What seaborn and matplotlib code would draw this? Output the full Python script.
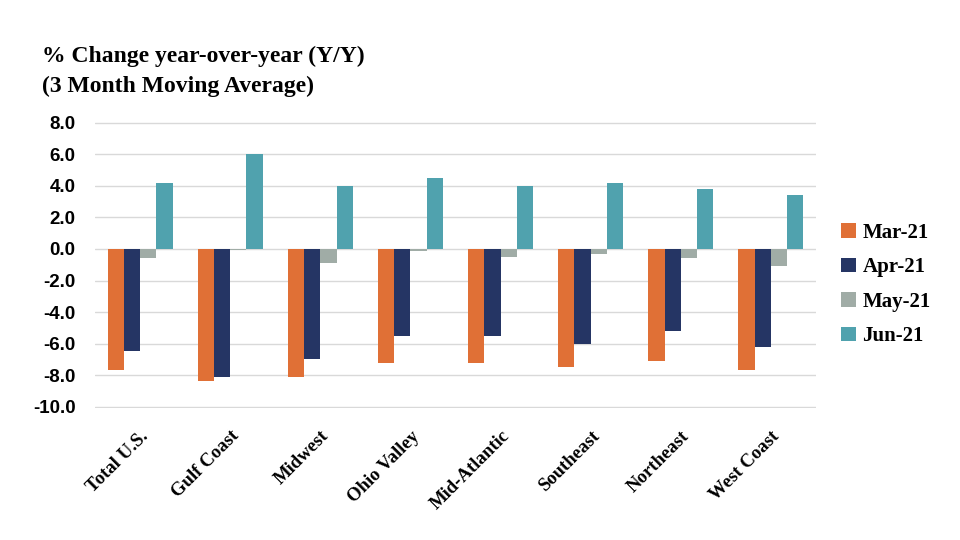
import pandas as pd
import matplotlib
matplotlib.use("Agg")
import matplotlib.pyplot as plt
import seaborn as sns

# 地域ごとの前年比 (3か月移動平均)
regions = ["Total U.S.", "Gulf Coast", "Midwest", "Ohio Valley",
           "Mid-Atlantic", "Southeast", "Northeast", "West Coast"]
months = ["Mar-21", "Apr-21", "May-21", "Jun-21"]
mar_21 = [-7.7, -8.4, -8.1, -7.2, -7.2, -7.5, -7.1, -7.7]
apr_21 = [-6.5, -8.1, -7.0, -5.5, -5.5, -6.0, -5.2, -6.2]
may_21 = [-0.6, -0.05, -0.9, -0.1, -0.5, -0.3, -0.6, -1.1]
jun_21 = [4.2, 6.0, 4.0, 4.5, 4.0, 4.2, 3.8, 3.4]
colors = ["#E07036", "#253564", "#A0ACA6", "#50A2AE"]

frames = []
for month, values in zip(months, [mar_21, apr_21, may_21, jun_21]):
    record = pd.DataFrame({"region": regions, "value": values})
    record["month"] = month
    frames.append(record)
data = pd.concat(frames, ignore_index=True)

sns.set_style("white", {"text.color": "black", "xtick.color": "black",
                        "ytick.color": "black"})
fig = plt.figure(figsize=(9.6, 5.4), dpi=100)
ax = fig.add_axes([0.099, 0.244, 0.751, 0.530])

sns.barplot(data=data, x="region", y="value", hue="month",
            hue_order=months, palette=colors, width=0.72,
            saturation=1, linewidth=0, ax=ax)

ax.set_ylim(-10.1, 8.05)
ax.set_xlim(-0.5, 7.5)
ax.set_yticks(range(-10, 9, 2))
ax.set_yticklabels(["{:.1f}".format(v) for v in range(-10, 9, 2)],
                   fontsize=13.5, fontweight="bold",
                   family="Liberation Sans", color="black")
ax.yaxis.grid(True, color="#D9D9D9", linewidth=1)
ax.set_axisbelow(True)
for spine in ax.spines.values():
    spine.set_visible(False)
ax.tick_params(axis="both", length=0)
ax.tick_params(axis="y", pad=14)
ax.tick_params(axis="x", pad=14)
ax.set_xlabel("")
ax.set_ylabel("")
for label in ax.get_xticklabels():
    label.set_rotation(45)
    label.set_ha("right")
    label.set_rotation_mode("anchor")
    label.set_fontsize(13.5)
    label.set_fontweight("bold")
    label.set_family("Liberation Serif")
    label.set_color("black")

handles, labels = ax.get_legend_handles_labels()
legend = ax.legend(handles, labels, loc="center left",
                   bbox_to_anchor=(0.857, 0.473),
                   bbox_transform=fig.transFigure, frameon=False,
                   handlelength=0.7, handleheight=0.7, handletextpad=0.3,
                   labelspacing=0.7,
                   prop={"family": "Liberation Serif", "weight": "bold",
                         "size": 15})
for text in legend.get_texts():
    text.set_color("black")

fig.text(0.044, 0.895, "% Change year-over-year (Y/Y)",
         family="Liberation Serif", fontweight="bold", fontsize=17,
         va="center", color="black")
fig.text(0.044, 0.840, "(3 Month Moving Average)",
         family="Liberation Serif", fontweight="bold", fontsize=17,
         va="center", color="black")

fig.savefig("out.png", dpi=100)
